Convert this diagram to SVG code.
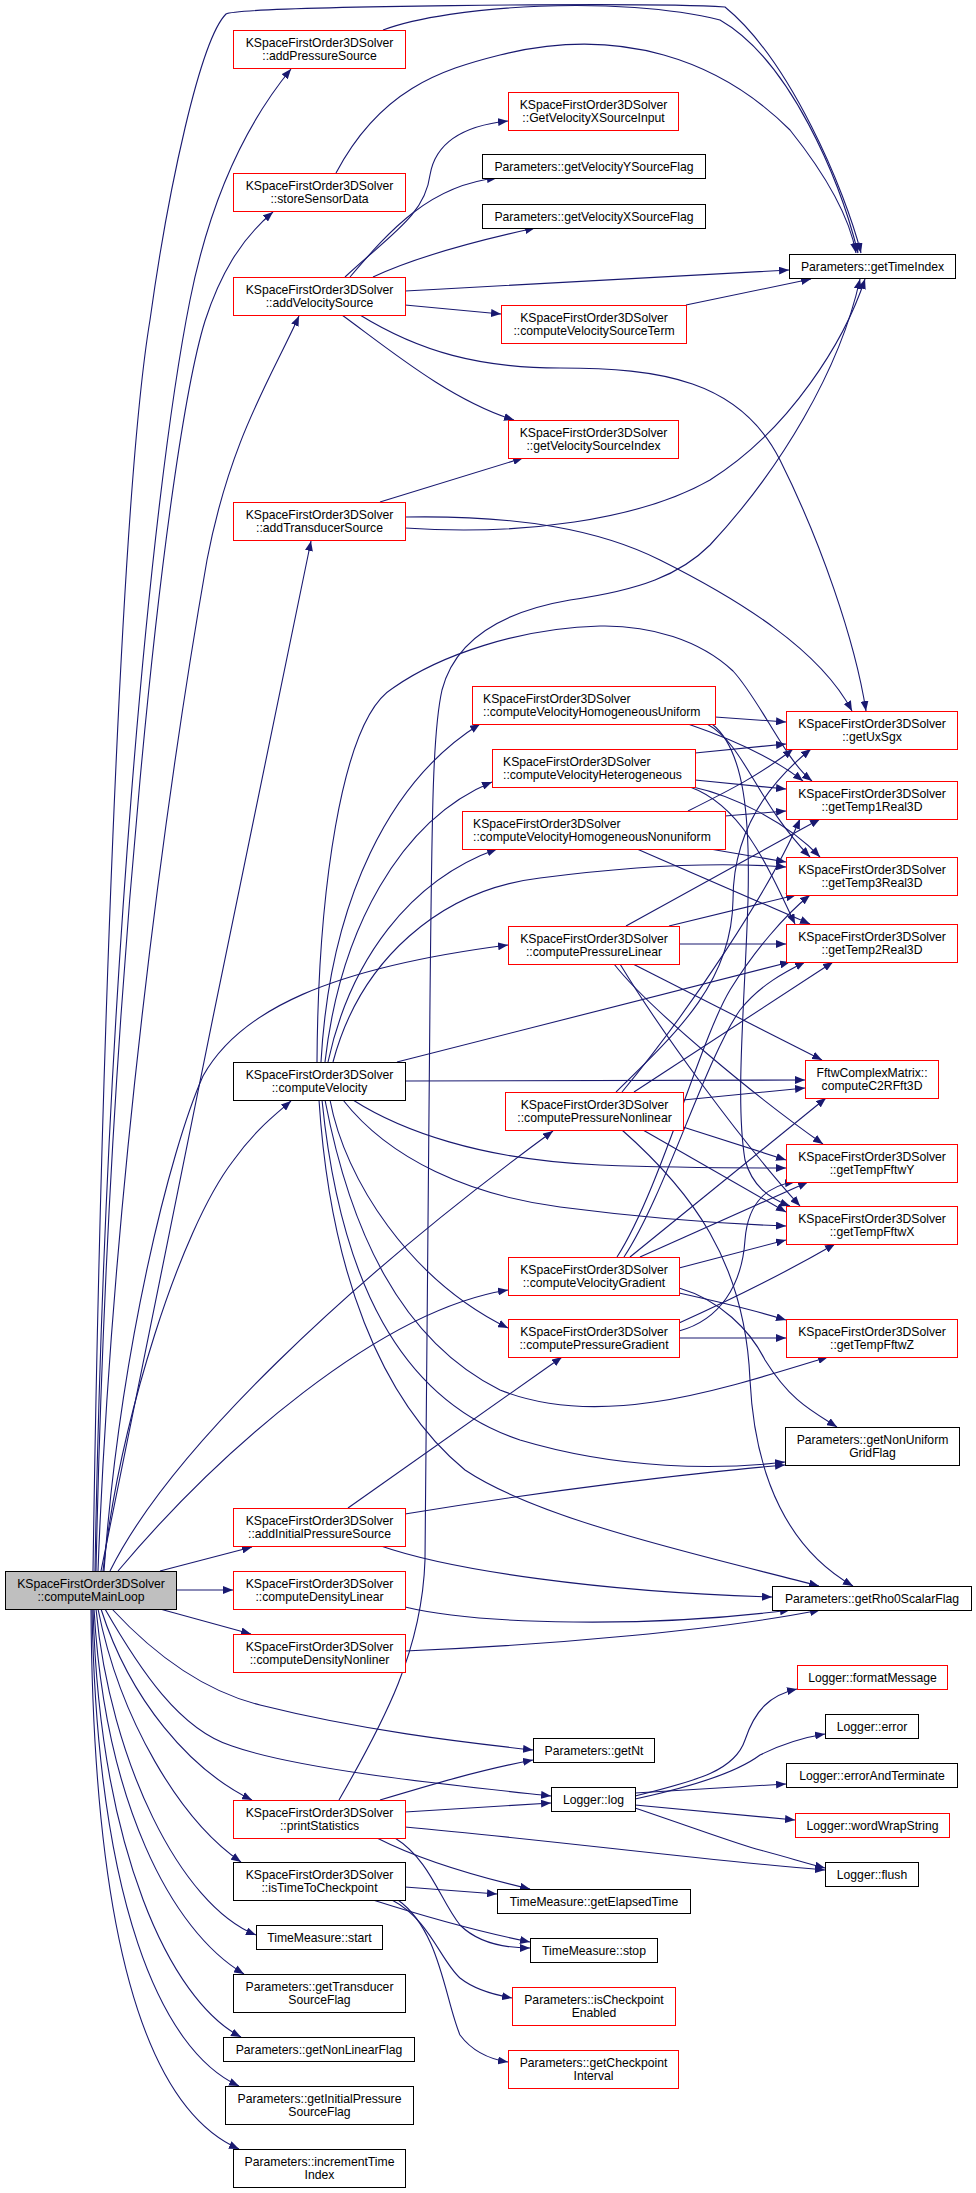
<svg xmlns="http://www.w3.org/2000/svg" width="976" height="2193" viewBox="0 0 976 2193">
<style>
text{font-family:"Liberation Sans",Arial,Helvetica,sans-serif;font-size:12.2px;fill:#000;text-anchor:middle}
text.l{text-anchor:start}
.n rect{fill:#fff;stroke-width:1}
.r rect{stroke:#ff0000}
.b rect{stroke:#000}
.root rect{fill:#bfbfbf;stroke:#000}
#edges path{fill:none;stroke:#191970;stroke-width:1.1;marker-end:url(#a)}
</style>
<defs><marker id="a" markerUnits="userSpaceOnUse" markerWidth="11" markerHeight="8" refX="10" refY="4" orient="auto"><path d="M0,0 L10,4 L0,8 z" fill="#191970"/></marker></defs>
<rect width="976" height="2193" fill="#fff"/>
<g id="edges">
<path d="M93,1571 C100,1100 120,500 150,320 C168,190 200,40 226,14 C240,6 650,2 725,7 C790,60 845,190 861,253"/>
<path d="M95,1571 C105,1000 150,500 190,300 C210,200 245,125 291,69"/>
<path d="M96,1571 C108,1000 165,450 205,321 C220,275 240,240 273,212"/>
<path d="M98,1571 C112,1200 165,800 207,560 C230,440 270,380 299,316"/>
<path d="M101,1571 C150,1330 250,830 311,541"/>
<path d="M103,1571 C120,1420 180,1230 233,1161 C255,1130 275,1115 291,1101"/>
<path d="M104,1571 C120,1350 170,1150 203,1076 C240,1010 330,968 508,945"/>
<path d="M110,1571 C170,1450 350,1280 553,1131"/>
<path d="M118,1571 C220,1450 380,1310 508,1290"/>
<path d="M160,1571 L252,1547"/>
<path d="M176,1590 L233,1590"/>
<path d="M160,1609 L251,1634"/>
<path d="M112,1609 C150,1650 200,1690 260,1705 C360,1730 460,1742 533,1750"/>
<path d="M105,1609 C140,1670 180,1730 232,1746 C300,1770 450,1785 551,1796"/>
<path d="M101,1609 C130,1700 190,1770 252,1800"/>
<path d="M98,1609 C120,1720 180,1820 241,1862"/>
<path d="M96,1609 C110,1760 180,1905 256,1935"/>
<path d="M94,1609 C105,1800 170,1930 244,1974"/>
<path d="M93,1609 C100,1850 170,2000 241,2037"/>
<path d="M92,1609 C97,1900 160,2050 239,2086"/>
<path d="M91,1609 C93,1950 150,2110 239,2149"/>
<path d="M383,30 C450,5 620,-5 720,20 C790,60 840,180 858,253"/>
<path d="M336,173 C380,90 440,70 500,55 C620,25 720,60 790,130 C830,180 850,220 856,253"/>
<path d="M345,277 C390,235 425,215 430,175 C435,145 460,126 508,121"/>
<path d="M350,277 C390,230 430,185 497,178"/>
<path d="M373,277 C420,255 480,240 535,228"/>
<path d="M405,291 C550,283 700,275 789,270"/>
<path d="M405,305 L501,314"/>
<path d="M342,315 C390,350 450,400 514,420"/>
<path d="M360,315 C420,352 480,368 560,368 C660,368 740,380 780,460 C820,540 855,640 866,711"/>
<path d="M686,305 L811,279"/>
<path d="M380,502 L523,458"/>
<path d="M405,517 C520,515 600,530 660,560 C740,600 820,650 852,711"/>
<path d="M405,528 C520,536 640,520 710,480 C790,430 845,340 865,279"/>
<path d="M339,1800 C385,1720 422,1650 425,1560 L430,1000 C432,800 433,730 442,690 C455,640 500,612 570,600 C640,590 680,575 710,545 C780,470 840,370 860,279"/>
<path d="M715,717 L786,722"/>
<path d="M688,724 C720,735 770,755 803,781"/>
<path d="M707,724 C745,745 755,800 810,857"/>
<path d="M712,724 C745,750 750,820 748,900 C745,1000 735,1100 745,1160 C752,1185 768,1198 790,1206"/>
<path d="M695,753 L786,744"/>
<path d="M695,780 L786,789"/>
<path d="M693,787 C730,795 785,820 820,857"/>
<path d="M690,787 C740,805 765,860 795,924"/>
<path d="M688,811 C730,790 760,775 793,749"/>
<path d="M725,816 L786,811"/>
<path d="M710,849 L786,862"/>
<path d="M637,849 L810,924"/>
<path d="M626,926 L820,819"/>
<path d="M669,926 L796,895"/>
<path d="M679,944 L786,944"/>
<path d="M633,964 L822,1060"/>
<path d="M614,964 C650,1010 760,1100 823,1144"/>
<path d="M620,964 C660,1030 740,1140 800,1206"/>
<path d="M616,1092 C680,1030 732,980 733,900 C733,840 760,790 811,749"/>
<path d="M622,1092 C690,1010 770,890 800,819"/>
<path d="M634,1092 L833,962"/>
<path d="M683,1100 L805,1088"/>
<path d="M683,1127 L786,1160"/>
<path d="M643,1130 L786,1212"/>
<path d="M622,1130 C690,1190 745,1260 750,1380 C755,1480 790,1550 853,1586"/>
<path d="M617,1257 C660,1190 700,1040 730,990 C755,950 785,915 810,895"/>
<path d="M624,1257 C665,1195 705,1060 740,1010 C760,985 785,972 805,962"/>
<path d="M630,1257 L826,1098"/>
<path d="M640,1257 L808,1182"/>
<path d="M679,1268 L786,1240"/>
<path d="M679,1293 C720,1302 760,1312 786,1320"/>
<path d="M679,1288 C720,1300 750,1330 765,1360 C790,1400 810,1410 837,1427"/>
<path d="M679,1331 C720,1320 742,1285 745,1240 C748,1200 770,1185 795,1182"/>
<path d="M679,1323 C730,1300 790,1270 835,1244"/>
<path d="M679,1338 L786,1338"/>
<path d="M321,1062 C330,900 390,780 480,724"/>
<path d="M325,1062 C340,930 400,820 492,782"/>
<path d="M328,1062 C350,960 410,880 497,849"/>
<path d="M317,1062 C318,900 340,720 393,688 C440,655 520,628 600,626 C650,625 700,640 733,671 C760,700 785,760 812,781"/>
<path d="M333,1062 C360,960 440,890 540,878 C640,865 720,862 786,867"/>
<path d="M397,1062 L790,962"/>
<path d="M405,1081 L805,1080"/>
<path d="M353,1100 C400,1130 480,1160 600,1165 C680,1168 740,1168 786,1168"/>
<path d="M343,1100 C390,1160 470,1195 560,1207 C660,1220 730,1224 786,1226"/>
<path d="M330,1100 C345,1180 410,1280 508,1328"/>
<path d="M325,1100 C350,1230 400,1340 500,1390 C600,1430 720,1390 828,1357"/>
<path d="M322,1100 C340,1280 400,1400 520,1440 C620,1470 720,1470 785,1462"/>
<path d="M319,1100 C330,1270 380,1400 465,1470 C540,1520 700,1555 819,1586"/>
<path d="M348,1508 L562,1357"/>
<path d="M405,1514 C550,1490 700,1472 785,1465"/>
<path d="M381,1546 C450,1570 600,1592 772,1597"/>
<path d="M405,1607 C480,1625 650,1628 790,1610"/>
<path d="M405,1651 C550,1645 720,1630 820,1610"/>
<path d="M380,1800 C430,1785 480,1770 533,1760"/>
<path d="M405,1812 L551,1803"/>
<path d="M405,1827 C550,1840 700,1860 825,1870"/>
<path d="M377,1838 C420,1860 470,1875 530,1889"/>
<path d="M395,1838 C430,1860 440,1900 460,1925 C480,1945 510,1948 530,1948"/>
<path d="M405,1887 L497,1894"/>
<path d="M373,1900 C420,1915 470,1930 530,1942"/>
<path d="M392,1900 C430,1920 440,1960 460,1978 C475,1990 495,1995 512,1998"/>
<path d="M398,1900 C440,1930 445,2000 460,2035 C475,2055 495,2060 508,2062"/>
<path d="M635,1796 C700,1780 735,1770 745,1740 C755,1710 770,1695 797,1689"/>
<path d="M635,1799 C700,1785 740,1770 760,1755 C780,1745 800,1738 825,1734"/>
<path d="M635,1793 L786,1784"/>
<path d="M635,1805 L795,1820"/>
<path d="M635,1808 C700,1830 740,1845 760,1850 C790,1858 805,1863 825,1868"/>
</g>
<g id="n_mainLoop" class="n root"><rect x="5.5" y="1571.5" width="171" height="38"/><text x="91" y="1587.5">KSpaceFirstOrder3DSolver</text><text x="91" y="1601">::computeMainLoop</text></g>
<g id="n_addPressureSource" class="n r"><rect x="233.5" y="30.5" width="172" height="38"/><text x="319.5" y="46.5">KSpaceFirstOrder3DSolver</text><text x="319.5" y="60">::addPressureSource</text></g>
<g id="n_storeSensorData" class="n r"><rect x="233.5" y="173.5" width="172" height="38"/><text x="319.5" y="189.5">KSpaceFirstOrder3DSolver</text><text x="319.5" y="203">::storeSensorData</text></g>
<g id="n_addVelocitySource" class="n r"><rect x="233.5" y="277.5" width="172" height="38"/><text x="319.5" y="293.5">KSpaceFirstOrder3DSolver</text><text x="319.5" y="307">::addVelocitySource</text></g>
<g id="n_addTransducerSource" class="n r"><rect x="233.5" y="502.5" width="172" height="38"/><text x="319.5" y="518.5">KSpaceFirstOrder3DSolver</text><text x="319.5" y="532">::addTransducerSource</text></g>
<g id="n_computeVelocity" class="n b"><rect x="233.5" y="1062.5" width="172" height="38"/><text x="319.5" y="1078.5">KSpaceFirstOrder3DSolver</text><text x="319.5" y="1092">::computeVelocity</text></g>
<g id="n_addInitialPressureSource" class="n r"><rect x="233.5" y="1508.5" width="172" height="38"/><text x="319.5" y="1524.5">KSpaceFirstOrder3DSolver</text><text x="319.5" y="1538">::addInitialPressureSource</text></g>
<g id="n_computeDensityLinear" class="n r"><rect x="233.5" y="1571.5" width="172" height="38"/><text x="319.5" y="1587.5">KSpaceFirstOrder3DSolver</text><text x="319.5" y="1601">::computeDensityLinear</text></g>
<g id="n_computeDensityNonliner" class="n r"><rect x="233.5" y="1634.5" width="172" height="38"/><text x="319.5" y="1650.5">KSpaceFirstOrder3DSolver</text><text x="319.5" y="1664">::computeDensityNonliner</text></g>
<g id="n_printStatistics" class="n r"><rect x="233.5" y="1800.5" width="172" height="38"/><text x="319.5" y="1816.5">KSpaceFirstOrder3DSolver</text><text x="319.5" y="1830">::printStatistics</text></g>
<g id="n_isTimeToCheckpoint" class="n b"><rect x="233.5" y="1862.5" width="172" height="38"/><text x="319.5" y="1878.5">KSpaceFirstOrder3DSolver</text><text x="319.5" y="1892">::isTimeToCheckpoint</text></g>
<g id="n_tmStart" class="n b"><rect x="256.5" y="1925.5" width="126" height="24"/><text x="319.5" y="1942">TimeMeasure::start</text></g>
<g id="n_getTransducerSourceFlag" class="n b"><rect x="233.5" y="1974.5" width="172" height="38"/><text x="319.5" y="1990.5">Parameters::getTransducer</text><text x="319.5" y="2004">SourceFlag</text></g>
<g id="n_getNonLinearFlag" class="n b"><rect x="223.5" y="2037.5" width="191" height="24"/><text x="319" y="2054">Parameters::getNonLinearFlag</text></g>
<g id="n_getInitialPressureSourceFlag" class="n b"><rect x="225.5" y="2086.5" width="188" height="38"/><text x="319.5" y="2102.5">Parameters::getInitialPressure</text><text x="319.5" y="2116">SourceFlag</text></g>
<g id="n_incrementTimeIndex" class="n b"><rect x="233.5" y="2149.5" width="172" height="38"/><text x="319.5" y="2165.5">Parameters::incrementTime</text><text x="319.5" y="2179">Index</text></g>
<g id="n_GetVelocityXSourceInput" class="n r"><rect x="508.5" y="92.5" width="170" height="38"/><text x="593.5" y="108.5">KSpaceFirstOrder3DSolver</text><text x="593.5" y="122">::GetVelocityXSourceInput</text></g>
<g id="n_getVelocityYSourceFlag" class="n b"><rect x="482.5" y="154.5" width="223" height="24"/><text x="594" y="171">Parameters::getVelocityYSourceFlag</text></g>
<g id="n_getVelocityXSourceFlag" class="n b"><rect x="482.5" y="204.5" width="223" height="24"/><text x="594" y="221">Parameters::getVelocityXSourceFlag</text></g>
<g id="n_computeVelocitySourceTerm" class="n r"><rect x="501.5" y="305.5" width="185" height="38"/><text x="594" y="321.5">KSpaceFirstOrder3DSolver</text><text x="594" y="335">::computeVelocitySourceTerm</text></g>
<g id="n_getVelocitySourceIndex" class="n r"><rect x="508.5" y="420.5" width="170" height="38"/><text x="593.5" y="436.5">KSpaceFirstOrder3DSolver</text><text x="593.5" y="450">::getVelocitySourceIndex</text></g>
<g id="n_computeVelocityHomogeneousUniform" class="n r"><rect x="472.5" y="686.5" width="243" height="38"/><text class="l" x="483" y="702.5">KSpaceFirstOrder3DSolver</text><text class="l" x="483" y="716">::computeVelocityHomogeneousUniform</text></g>
<g id="n_computeVelocityHeterogeneous" class="n r"><rect x="492.5" y="749.5" width="203" height="38"/><text class="l" x="503" y="765.5">KSpaceFirstOrder3DSolver</text><text class="l" x="503" y="779">::computeVelocityHeterogeneous</text></g>
<g id="n_computeVelocityHomogeneousNonuniform" class="n r"><rect x="462.5" y="811.5" width="263" height="38"/><text class="l" x="473" y="827.5">KSpaceFirstOrder3DSolver</text><text class="l" x="473" y="841">::computeVelocityHomogeneousNonuniform</text></g>
<g id="n_computePressureLinear" class="n r"><rect x="508.5" y="926.5" width="171" height="38"/><text x="594" y="942.5">KSpaceFirstOrder3DSolver</text><text x="594" y="956">::computePressureLinear</text></g>
<g id="n_computePressureNonlinear" class="n r"><rect x="505.5" y="1092.5" width="178" height="38"/><text x="594.5" y="1108.5">KSpaceFirstOrder3DSolver</text><text x="594.5" y="1122">::computePressureNonlinear</text></g>
<g id="n_computeVelocityGradient" class="n r"><rect x="508.5" y="1257.5" width="171" height="38"/><text x="594" y="1273.5">KSpaceFirstOrder3DSolver</text><text x="594" y="1287">::computeVelocityGradient</text></g>
<g id="n_computePressureGradient" class="n r"><rect x="508.5" y="1319.5" width="171" height="38"/><text x="594" y="1335.5">KSpaceFirstOrder3DSolver</text><text x="594" y="1349">::computePressureGradient</text></g>
<g id="n_getNt" class="n b"><rect x="533.5" y="1738.5" width="121" height="24"/><text x="594" y="1755">Parameters::getNt</text></g>
<g id="n_log" class="n b"><rect x="551.5" y="1787.5" width="84" height="24"/><text x="593.5" y="1804">Logger::log</text></g>
<g id="n_getElapsedTime" class="n b"><rect x="497.5" y="1889.5" width="193" height="24"/><text x="594" y="1906">TimeMeasure::getElapsedTime</text></g>
<g id="n_tmStop" class="n b"><rect x="530.5" y="1938.5" width="127" height="24"/><text x="594" y="1955">TimeMeasure::stop</text></g>
<g id="n_isCheckpointEnabled" class="n r"><rect x="512.5" y="1987.5" width="163" height="38"/><text x="594" y="2003.5">Parameters::isCheckpoint</text><text x="594" y="2017">Enabled</text></g>
<g id="n_getCheckpointInterval" class="n r"><rect x="508.5" y="2050.5" width="170" height="38"/><text x="593.5" y="2066.5">Parameters::getCheckpoint</text><text x="593.5" y="2080">Interval</text></g>
<g id="n_getTimeIndex" class="n b"><rect x="789.5" y="254.5" width="166" height="24"/><text x="872.5" y="271">Parameters::getTimeIndex</text></g>
<g id="n_getUxSgx" class="n r"><rect x="786.5" y="711.5" width="171" height="38"/><text x="872" y="727.5">KSpaceFirstOrder3DSolver</text><text x="872" y="741">::getUxSgx</text></g>
<g id="n_getTemp1Real3D" class="n r"><rect x="786.5" y="781.5" width="171" height="38"/><text x="872" y="797.5">KSpaceFirstOrder3DSolver</text><text x="872" y="811">::getTemp1Real3D</text></g>
<g id="n_getTemp3Real3D" class="n r"><rect x="786.5" y="857.5" width="171" height="38"/><text x="872" y="873.5">KSpaceFirstOrder3DSolver</text><text x="872" y="887">::getTemp3Real3D</text></g>
<g id="n_getTemp2Real3D" class="n r"><rect x="786.5" y="924.5" width="171" height="38"/><text x="872" y="940.5">KSpaceFirstOrder3DSolver</text><text x="872" y="954">::getTemp2Real3D</text></g>
<g id="n_computeC2RFft3D" class="n r"><rect x="805.5" y="1060.5" width="133" height="38"/><text x="872" y="1076.5">FftwComplexMatrix::</text><text x="872" y="1090">computeC2RFft3D</text></g>
<g id="n_getTempFftwY" class="n r"><rect x="786.5" y="1144.5" width="171" height="38"/><text x="872" y="1160.5">KSpaceFirstOrder3DSolver</text><text x="872" y="1174">::getTempFftwY</text></g>
<g id="n_getTempFftwX" class="n r"><rect x="786.5" y="1206.5" width="171" height="38"/><text x="872" y="1222.5">KSpaceFirstOrder3DSolver</text><text x="872" y="1236">::getTempFftwX</text></g>
<g id="n_getTempFftwZ" class="n r"><rect x="786.5" y="1319.5" width="171" height="38"/><text x="872" y="1335.5">KSpaceFirstOrder3DSolver</text><text x="872" y="1349">::getTempFftwZ</text></g>
<g id="n_getNonUniformGridFlag" class="n b"><rect x="785.5" y="1427.5" width="174" height="38"/><text x="872.5" y="1443.5">Parameters::getNonUniform</text><text x="872.5" y="1457">GridFlag</text></g>
<g id="n_getRho0ScalarFlag" class="n b"><rect x="772.5" y="1586.5" width="199" height="24"/><text x="872" y="1603">Parameters::getRho0ScalarFlag</text></g>
<g id="n_formatMessage" class="n r"><rect x="797.5" y="1665.5" width="150" height="24"/><text x="872.5" y="1682">Logger::formatMessage</text></g>
<g id="n_error" class="n b"><rect x="825.5" y="1714.5" width="93" height="24"/><text x="872" y="1731">Logger::error</text></g>
<g id="n_errorAndTerminate" class="n b"><rect x="786.5" y="1763.5" width="171" height="24"/><text x="872" y="1780">Logger::errorAndTerminate</text></g>
<g id="n_wordWrapString" class="n r"><rect x="795.5" y="1813.5" width="154" height="24"/><text x="872.5" y="1830">Logger::wordWrapString</text></g>
<g id="n_flush" class="n b"><rect x="825.5" y="1862.5" width="93" height="24"/><text x="872" y="1879">Logger::flush</text></g>
</svg>
